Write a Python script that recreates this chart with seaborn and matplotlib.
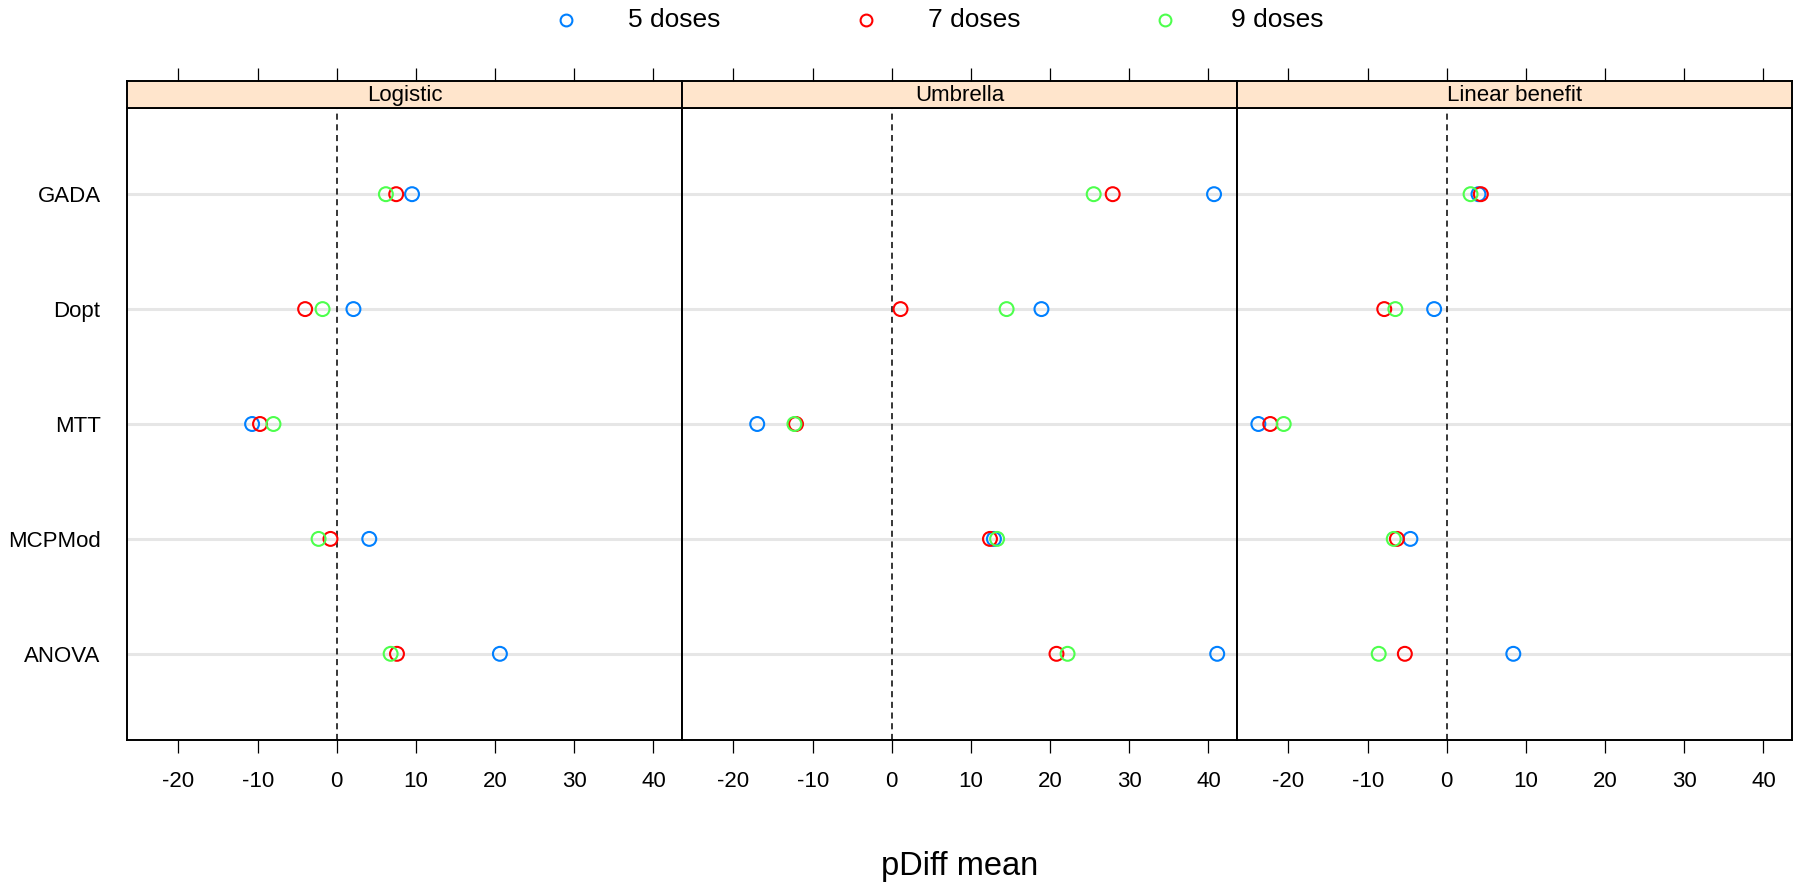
import numpy as np
import pandas as pd
import matplotlib
matplotlib.use("Agg")
import matplotlib.pyplot as plt
import seaborn as sns
from matplotlib.lines import Line2D

# ---------------- data ----------------
methods = ["ANOVA", "MCPMod", "MTT", "Dopt", "GADA"]          # bottom -> top
panels = ["Logistic", "Umbrella", "Linear benefit"]
doses = ["5 doses", "7 doses", "9 doses"]
colors = ["#0080ff", "#ff0000", "#4dff4d"]
xticks = [-20, -10, 0, 10, 20, 30, 40]

# values in methods order: ANOVA, MCPMod, MTT, Dopt, GADA
logistic_5 = [20.6, 4.1, -10.7, 2.1, 9.5]
logistic_7 = [7.6, -0.8, -9.7, -4.0, 7.5]
logistic_9 = [6.8, -2.3, -8.0, -1.8, 6.2]
umbrella_5 = [41.1, 12.9, -17.0, 18.9, 40.7]
umbrella_7 = [20.8, 12.4, -12.1, 1.1, 27.9]
umbrella_9 = [22.2, 13.3, -12.3, 14.5, 25.5]
linear_5 = [8.4, -4.6, -23.8, -1.6, 4.0]
linear_7 = [-5.3, -6.3, -22.3, -7.9, 4.3]
linear_9 = [-8.6, -6.7, -20.6, -6.5, 3.0]

values = {
    "Logistic": [logistic_5, logistic_7, logistic_9],
    "Umbrella": [umbrella_5, umbrella_7, umbrella_9],
    "Linear benefit": [linear_5, linear_7, linear_9],
}

rows = []
for p in panels:
    for d, vals in zip(doses, values[p]):
        for m, v in zip(methods, vals):
            rows.append({"panel": p, "dose": d, "method": m,
                         "pos": methods.index(m) + 1, "value": v})
df = pd.DataFrame(rows)

# ---------------- layout ----------------
W, H = 1794, 885
plt.rcParams["font.family"] = ["Liberation Sans", "DejaVu Sans"]
fig = plt.figure(figsize=(W / 100, H / 100), dpi=100)

x0, pw = 127, 555
ptop, pbot = 108, 740
stop = 81
xlim = (-26.5, 43.6)

for i, p in enumerate(panels):
    left = (x0 + i * pw) / W
    ax = fig.add_axes([left, (H - pbot) / H, pw / W, (pbot - ptop) / H])
    sub = df[df["panel"] == p]
    for k in range(1, len(methods) + 1):
        ax.axhline(k, color="#e6e6e6", lw=2.2, zorder=0)
    ax.axvline(0, color="black", lw=1.1, ls=(0, (4, 3)), zorder=1)
    sns.scatterplot(data=sub, x="value", y="pos", hue="dose",
                    hue_order=doses, palette=colors, s=100, linewidth=1.5,
                    legend=False, ax=ax, zorder=3)
    coll = ax.collections[-1]
    fc = coll.get_facecolors()
    coll.set_edgecolors(fc)
    coll.set_facecolors("none")

    ax.set_xlim(*xlim)
    ax.set_ylim(0.25, len(methods) + 0.75)
    ax.set_xticks(xticks)
    ax.set_xticklabels([str(t) for t in xticks])
    ax.tick_params(axis="x", direction="out", length=9.5, width=0.9,
                   pad=13, labelsize=16)
    ax.set_yticks(range(1, len(methods) + 1))
    if i == 0:
        ax.set_yticklabels(methods)
        ax.tick_params(axis="y", length=0, pad=19, labelsize=16)
    else:
        ax.set_yticklabels([])
        ax.tick_params(axis="y", length=0)
    ax.set_xlabel("")
    ax.set_ylabel("")
    for sp in ax.spines.values():
        sp.set_linewidth(1.4)
        sp.set_color("black")
    ax.set_facecolor("white")

    # strip
    sax = fig.add_axes([left, (H - ptop) / H, pw / W, (ptop - stop) / H])
    sax.set_facecolor("#ffe5cc")
    sax.set_xlim(*xlim)
    sax.set_ylim(0, 1)
    sax.set_xticks(xticks)
    sax.xaxis.tick_top()
    sax.tick_params(axis="x", direction="out", length=9.5, width=0.9,
                    labeltop=False, labelbottom=False)
    sax.set_yticks([])
    for sp in sax.spines.values():
        sp.set_linewidth(1.4)
        sp.set_color("black")
    sax.text(0.5, 0.47, p, transform=sax.transAxes, ha="center",
             va="center", fontsize=16)

# x label
fig.text((x0 + 1.5 * pw) / W, 1 - 866 / H, "pDiff mean", ha="center",
         va="center", fontsize=23.5)

# legend (key on top)
mark_x = [566, 866, 1165]
text_x = [628, 928, 1231]
for d, c, mx, tx in zip(doses, colors, mark_x, text_x):
    fig.add_artist(Line2D([mx / W], [1 - 20 / H], marker="o",
                          markersize=8.5, markerfacecolor="none",
                          markeredgecolor=c, markeredgewidth=1.5,
                          linestyle="none", transform=fig.transFigure))
    fig.text(tx / W, 1 - 20 / H, d, ha="left", va="center", fontsize=19)

fig.savefig("out.png", dpi=100, facecolor="white")
